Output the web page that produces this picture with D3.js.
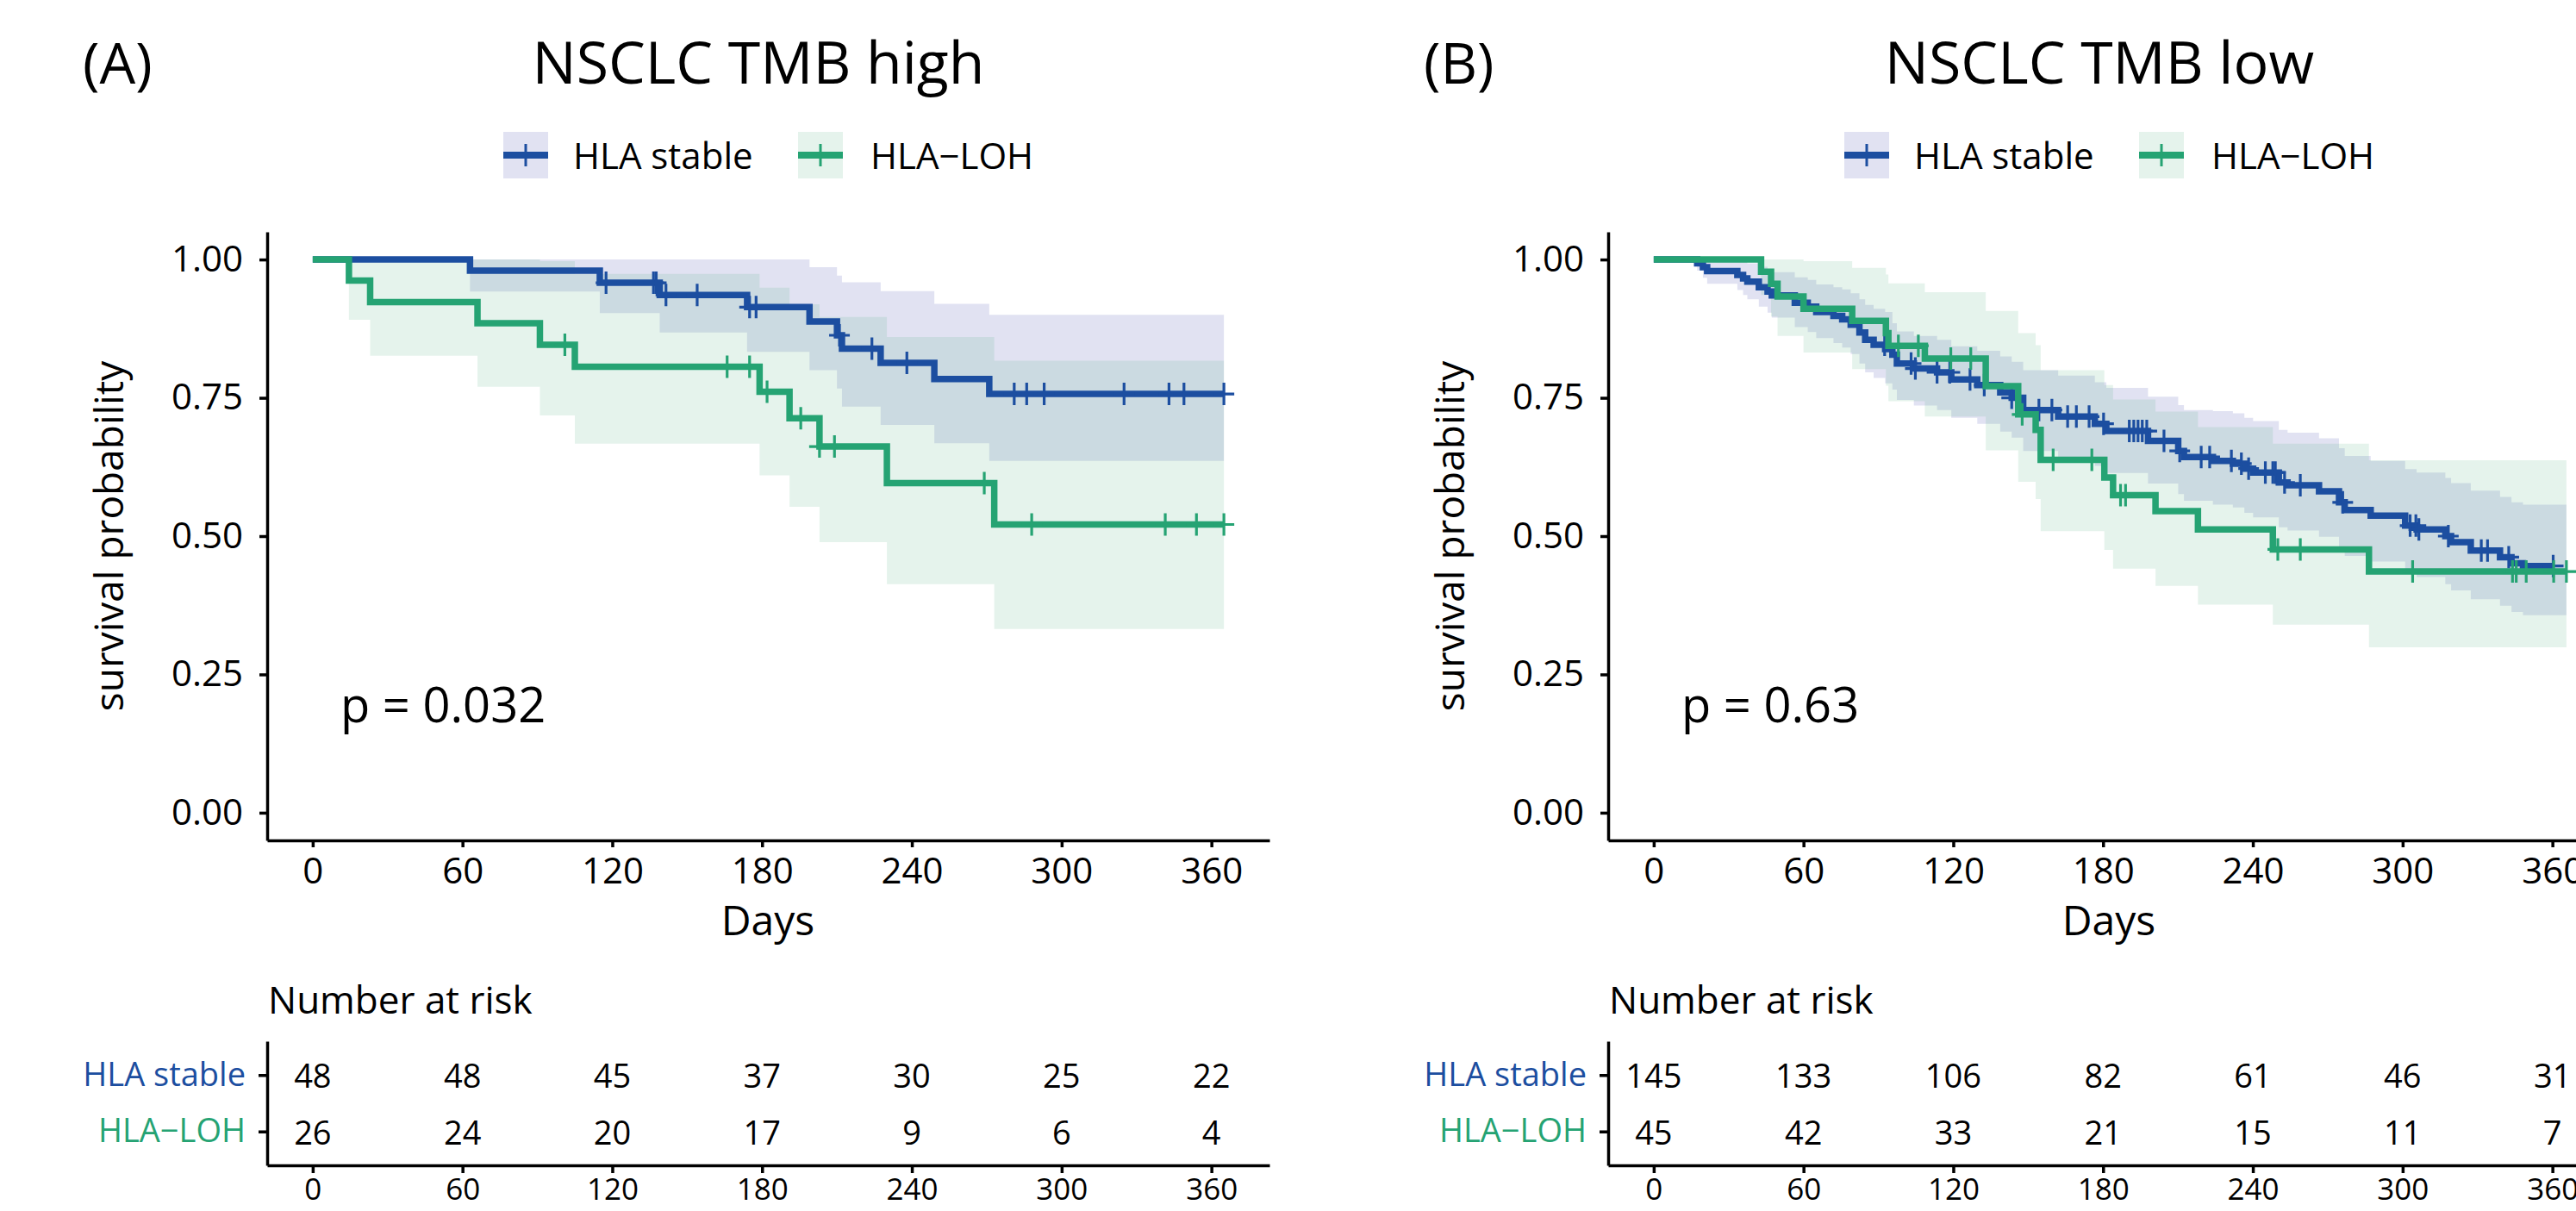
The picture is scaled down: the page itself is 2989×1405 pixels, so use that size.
<!DOCTYPE html>
<html>
<head>
<meta charset="utf-8">
<title>NSCLC TMB survival</title>
<script src="https://cdn.jsdelivr.net/npm/d3@7"></script>
<style>
  body { margin: 0; background: #fff; }
  svg { display: block; font-family: "Open Sans", sans-serif; }
</style>
</head>
<body>
<svg id="chart" width="2989" height="1405"></svg>
<script>
const dayTicks = [0, 60, 120, 180, 240, 300, 360];
const groups = ["HLA stable", "HLA\u2212LOH"];

// panel A : TMB high
const aStableT = [0, 63, 115, 139, 174, 199, 210, 212, 227.5, 249, 271];
const aStableS = [1, 0.980, 0.958, 0.936, 0.914, 0.888, 0.863, 0.839, 0.813, 0.784, 0.757];
const aStableLo = [1, 0.942, 0.903, 0.868, 0.833, 0.800, 0.767, 0.734, 0.701, 0.668, 0.636];
const aStableHi = [1, 1, 1, 1, 1, 0.986, 0.971, 0.959, 0.943, 0.920, 0.900];
const aStableCens = [117.5, 136.5, 137.6, 141.5, 154, 175, 177.6, 211, 224, 238, 281, 286, 293, 325, 343, 349, 365];

const aLohT = [0, 14.5, 23, 66, 91, 105, 179, 191, 203, 230, 273];
const aLohS = [1, 0.962, 0.923, 0.885, 0.846, 0.806, 0.761, 0.713, 0.662, 0.596, 0.521];
const aLohLo = [1, 0.891, 0.826, 0.770, 0.718, 0.667, 0.610, 0.553, 0.489, 0.413, 0.332];
const aLohHi = [1, 1, 1, 1, 0.997, 0.974, 0.949, 0.919, 0.896, 0.860, 0.817];
const aLohCens = [101, 166, 175, 182, 195.5, 203, 209, 269, 288, 341.5, 354, 365];

const aRiskStable = [48, 48, 45, 37, 30, 25, 22];
const aRiskLoh = [26, 24, 20, 17, 9, 6, 4];

// panel B : TMB low
const bStableT = [0, 17.4, 19.7, 21.4, 33.5, 35.8, 37.5, 42.1, 45.6, 47.3, 56.5, 61.7, 65.1, 72, 75.5, 78.9, 82.4, 84.7, 88.1, 92.7,
  95.6, 97.4, 104.2, 113.5, 119.2, 129.6, 138.8, 143.4, 148, 162, 176.7, 181.3, 198, 210.1, 212.4, 224, 232, 236.6, 240.1, 250.4,
  253.9, 266.5, 274.5, 276.8, 287.2, 301, 305.6, 317.1, 319.4, 327.3, 339, 343.6, 348.2];
const bStableS = [1, 0.993, 0.986, 0.979, 0.972, 0.966, 0.960, 0.950, 0.942, 0.935, 0.922, 0.915, 0.905, 0.898, 0.892, 0.882, 0.868, 0.855, 0.846, 0.838,
  0.828, 0.812, 0.803, 0.796, 0.783, 0.773, 0.760, 0.750, 0.728, 0.716, 0.703, 0.690, 0.672, 0.654, 0.643, 0.636, 0.631, 0.622, 0.615, 0.597,
  0.592, 0.581, 0.561, 0.547, 0.537, 0.519, 0.512, 0.500, 0.489, 0.474, 0.462, 0.451, 0.446];
const bStableLo = [1, 0.980, 0.967, 0.956, 0.945, 0.936, 0.928, 0.915, 0.904, 0.895, 0.878, 0.869, 0.858, 0.849, 0.841, 0.829, 0.812, 0.796, 0.786, 0.776,
  0.765, 0.746, 0.736, 0.728, 0.714, 0.703, 0.689, 0.678, 0.654, 0.641, 0.627, 0.614, 0.595, 0.576, 0.564, 0.557, 0.552, 0.542, 0.534, 0.516,
  0.510, 0.499, 0.478, 0.464, 0.454, 0.434, 0.426, 0.413, 0.402, 0.386, 0.374, 0.363, 0.357];
const bStableHi = [1, 1, 1, 1, 1, 0.997, 0.993, 0.987, 0.982, 0.977, 0.968, 0.963, 0.955, 0.950, 0.946, 0.939, 0.928, 0.918, 0.911, 0.905,
  0.885, 0.870, 0.862, 0.855, 0.843, 0.835, 0.825, 0.815, 0.800, 0.790, 0.778, 0.768, 0.752, 0.737, 0.728, 0.726, 0.722, 0.714, 0.708, 0.692,
  0.687, 0.677, 0.659, 0.645, 0.636, 0.621, 0.615, 0.605, 0.596, 0.582, 0.571, 0.561, 0.557];
const bStableCens = [92.5, 103.1, 104.8, 113.5, 118.6, 126.7, 132.4, 143.4, 154.3, 159.5, 165.8, 169.3, 174.4, 180.2, 190.5, 192.3, 194, 195.7, 197.5,
  204.4, 210.7, 219.3, 222.7, 231.4, 235.4, 238.3, 245, 248, 249, 252.7, 259, 276, 303, 305.3, 306.5, 318.3, 331.5, 334, 342.5, 360.3];

const bLohT = [0, 43, 47, 49.6, 60, 79.5, 93, 94, 108.6, 133, 146, 153, 155, 180.5, 184, 201, 218, 248, 286.5];
const bLohS = [1, 0.978, 0.956, 0.933, 0.911, 0.889, 0.867, 0.844, 0.821, 0.771, 0.720, 0.692, 0.638, 0.606, 0.574, 0.545, 0.512, 0.476, 0.436];
const bLohLo = [1, 0.936, 0.897, 0.862, 0.832, 0.802, 0.772, 0.744, 0.716, 0.655, 0.598, 0.567, 0.509, 0.475, 0.441, 0.410, 0.376, 0.340, 0.299];
const bLohHi = [1, 1, 1, 1, 0.997, 0.985, 0.973, 0.957, 0.941, 0.907, 0.867, 0.845, 0.800, 0.773, 0.747, 0.725, 0.697, 0.667, 0.637];
const bLohCens = [98, 106, 119, 127, 147.6, 160, 175.5, 187, 189, 250, 259, 304, 344, 345.5, 349.5, 360.5, 365.6];

const bRiskStable = [145, 133, 106, 82, 61, 46, 31];
const bRiskLoh = [45, 42, 33, 21, 15, 11, 7];

const colStable = "#1c4ea0";
const colLoh = "#25a373";
const fillStable = "#6a6fbf";
const fillLoh = "#52af80";

const panels = [
    {
        tag: "(A)", title: "NSCLC TMB high", p: "p = 0.032", ox: 0,
        curves: [
            { t: aStableT, s: aStableS, lo: aStableLo, hi: aStableHi, cens: aStableCens, end: 365, bandEnd: 365, col: colStable, fill: fillStable, op: 0.2 },
            { t: aLohT, s: aLohS, lo: aLohLo, hi: aLohHi, cens: aLohCens, end: 365, bandEnd: 365, col: colLoh, fill: fillLoh, op: 0.15 }
        ],
        risk: [aRiskStable, aRiskLoh]
    },
    {
        tag: "(B)", title: "NSCLC TMB low", p: "p = 0.63", ox: 1556,
        curves: [
            { t: bStableT, s: bStableS, lo: bStableLo, hi: bStableHi, cens: bStableCens, end: 360.3, bandEnd: 365.6, col: colStable, fill: fillStable, op: 0.2 },
            { t: bLohT, s: bLohS, lo: bLohLo, hi: bLohHi, cens: bLohCens, end: 365.6, bandEnd: 365.6, col: colLoh, fill: fillLoh, op: 0.15 }
        ],
        risk: [bRiskStable, bRiskLoh]
    }
];

const svg = d3.select("#chart");

function styleAxis(ax, size) {
    ax.attr("font-family", null).attr("font-size", size);
    ax.selectAll("path, line").attr("stroke", "#000").attr("stroke-width", 3.5);
    ax.selectAll("text").attr("fill", "#000");
}

function drawPanel(cfg) {
    const g = svg.append("g").attr("transform", `translate(${cfg.ox},0)`);

    // ggplot style 5% expansion around 0..365 days and 0..1
    const x = d3.scaleLinear().domain([-18.25, 383.25]).range([310, 1473]);
    const y = d3.scaleLinear().domain([-0.05, 1.05]).range([975, 269]);

    g.append("text").attr("x", 96).attr("y", 97).attr("font-size", 66).text(cfg.tag);
    g.append("text").attr("x", 880).attr("y", 97).attr("font-size", 68)
        .attr("text-anchor", "middle").text(cfg.title);

    // legend
    const legX = [[584, 665], [926, 1010]];
    cfg.curves.forEach((c, i) => {
        const kx = legX[i][0];
        g.append("rect").attr("x", kx).attr("y", 153).attr("width", 52).attr("height", 54)
            .attr("fill", c.fill).attr("fill-opacity", c.op);
        g.append("line").attr("x1", kx).attr("x2", kx + 52).attr("y1", 180).attr("y2", 180)
            .attr("stroke", c.col).attr("stroke-width", 8);
        g.append("line").attr("x1", kx + 26).attr("x2", kx + 26).attr("y1", 167).attr("y2", 193)
            .attr("stroke", c.col).attr("stroke-width", 3);
        g.append("text").attr("x", legX[i][1]).attr("y", 196).attr("font-size", 42).text(groups[i]);
    });

    // confidence bands
    const area = d3.area().curve(d3.curveStepAfter)
        .x(d => x(d.t)).y0(d => y(d.lo)).y1(d => y(d.hi));
    cfg.curves.forEach(c => {
        const pts = c.t.map((t, i) => ({ t: t, lo: c.lo[i], hi: c.hi[i] }));
        pts.push({ t: c.bandEnd, lo: c.lo[c.lo.length - 1], hi: c.hi[c.hi.length - 1] });
        g.append("path").datum(pts).attr("d", area)
            .attr("fill", c.fill).attr("fill-opacity", c.op);
    });

    // survival curves + censor marks
    const line = d3.line().curve(d3.curveStepAfter).x(d => x(d.t)).y(d => y(d.s));
    cfg.curves.forEach(c => {
        const pts = c.t.map((t, i) => ({ t: t, s: c.s[i] }));
        pts.push({ t: c.end, s: c.s[c.s.length - 1] });
        g.append("path").datum(pts).attr("d", line)
            .attr("fill", "none").attr("stroke", c.col).attr("stroke-width", 7.5);

        g.selectAll(null).data(c.cens).enter().append("path")
            .attr("d", t => {
                const s = c.s[d3.bisectRight(c.t, t) - 1];
                const px = x(t), py = y(s);
                return `M${px - 12},${py}H${px + 12}M${px},${py - 13}V${py + 13}`;
            })
            .attr("stroke", c.col).attr("stroke-width", 3.2).attr("fill", "none");
    });

    // axes
    const yAx = g.append("g").attr("transform", "translate(310,0)")
        .call(d3.axisLeft(y).tickValues([0, 0.25, 0.5, 0.75, 1]).tickFormat(d3.format(".2f"))
            .tickSize(9).tickSizeOuter(0).tickPadding(19));
    styleAxis(yAx, 42);

    const xAx = g.append("g").attr("transform", "translate(0,975)")
        .call(d3.axisBottom(x).tickValues(dayTicks).tickSize(8).tickSizeOuter(0).tickPadding(12));
    styleAxis(xAx, 42);

    g.append("text").attr("transform", "translate(125,622) rotate(-90)")
        .attr("text-anchor", "middle").attr("dominant-baseline", "central")
        .attr("font-size", 46).text("survival probability");
    g.append("text").attr("x", 891).attr("y", 1085).attr("text-anchor", "middle")
        .attr("font-size", 48).text("Days");

    g.append("text").attr("x", 395).attr("y", 838).attr("font-size", 56).text(cfg.p);

    // number at risk table
    g.append("text").attr("x", 311).attr("y", 1176).attr("font-size", 44).text("Number at risk");

    const yR = d3.scaleLinear().domain([0.4, 2.6]).range([1208, 1352]);
    const rAx = g.append("g").attr("transform", "translate(310,0)")
        .call(d3.axisLeft(yR).tickValues([1, 2]).tickFormat(i => groups[i - 1])
            .tickSize(10).tickSizeOuter(0).tickPadding(15));
    styleAxis(rAx, 38);
    rAx.selectAll(".tick text").attr("fill", d => d === 1 ? colStable : colLoh);

    const rxAx = g.append("g").attr("transform", "translate(0,1352)")
        .call(d3.axisBottom(x).tickValues(dayTicks).tickSize(9).tickSizeOuter(0).tickPadding(6));
    styleAxis(rxAx, 35);

    cfg.risk.forEach((row, r) => {
        g.selectAll(null).data(row).enter().append("text")
            .attr("x", (d, i) => x(dayTicks[i]))
            .attr("y", yR(r + 1))
            .attr("text-anchor", "middle").attr("dominant-baseline", "central")
            .attr("font-size", 38)
            .text(d => d);
    });
}

panels.forEach(drawPanel);
</script>
</body>
</html>
